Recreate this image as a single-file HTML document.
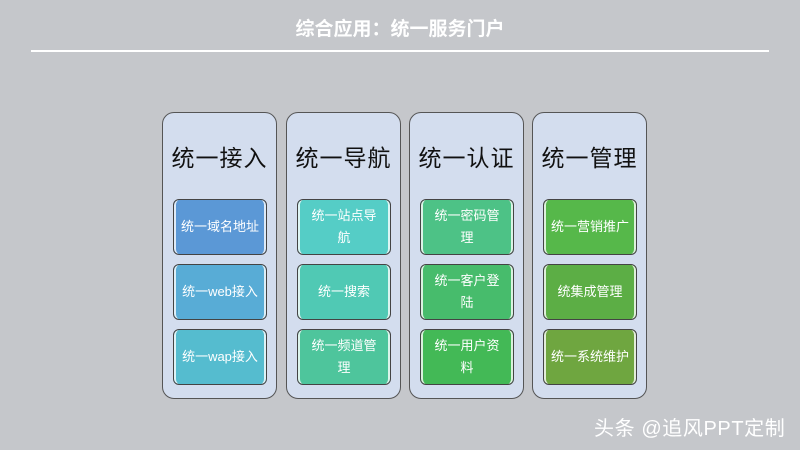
<!DOCTYPE html>
<html><head><meta charset="utf-8"><style>
body{margin:0;width:800px;height:450px;background:#c5c7cb;position:relative;overflow:hidden;font-family:"Liberation Sans","Noto Sans CJK SC",sans-serif}
.t{position:absolute;top:14px;left:0;width:800px;text-align:center;color:#fff;font-weight:bold;font-size:19px}
.ln{position:absolute;top:50px;left:31px;width:738px;height:2px;background:#fff}
.col{position:absolute;top:112px;width:115px;height:287px;background:#d3ddee;border:1px solid #555;border-radius:12px;box-sizing:border-box}
.col h{display:block;text-align:center;font-size:23px;color:#111;margin-top:26px;letter-spacing:1px}
.b{position:absolute;left:10px;width:94px;height:56px;border:1px solid #444;border-radius:6px;box-sizing:border-box;color:#fff;font-size:13px;display:flex;align-items:center;justify-content:center;text-align:center;line-height:22px;white-space:nowrap;box-shadow:inset 3px 0 0 -1px rgba(255,255,255,.8),inset -3px 0 0 -1px rgba(255,255,255,.8)}
.wm{position:absolute;left:594px;top:412px;color:#fff;font-size:20px;letter-spacing:0.6px}
</style></head><body>
<div class="t">综合应用：统一服务门户</div>
<div class="ln"></div>
<div class="col" style="left:162px"><h>统一接入</h>
<div class="b" style="top:86px;background:#5b98d6">统一域名地址</div>
<div class="b" style="top:151px;background:#58acd6">统一web接入</div>
<div class="b" style="top:216px;background:#55bccf">统一wap接入</div></div>
<div class="col" style="left:286px"><h>统一导航</h>
<div class="b" style="top:86px;background:#55cdc6">统一站点导<br>航</div>
<div class="b" style="top:151px;background:#50c9b4">统一搜索</div>
<div class="b" style="top:216px;background:#4ec59c">统一频道管<br>理</div></div>
<div class="col" style="left:409px"><h>统一认证</h>
<div class="b" style="top:86px;background:#4dc286">统一密码管<br>理</div>
<div class="b" style="top:151px;background:#47bc6c">统一客户登<br>陆</div>
<div class="b" style="top:216px;background:#43b956">统一用户资<br>料</div></div>
<div class="col" style="left:532px"><h>统一管理</h>
<div class="b" style="top:86px;background:#56b84a">统一营销推广</div>
<div class="b" style="top:151px;background:#5cae45">统集成管理</div>
<div class="b" style="top:216px;background:#6fa640">统一系统维护</div></div>
<div class="wm">头条 @追风PPT定制</div>
</body></html>
